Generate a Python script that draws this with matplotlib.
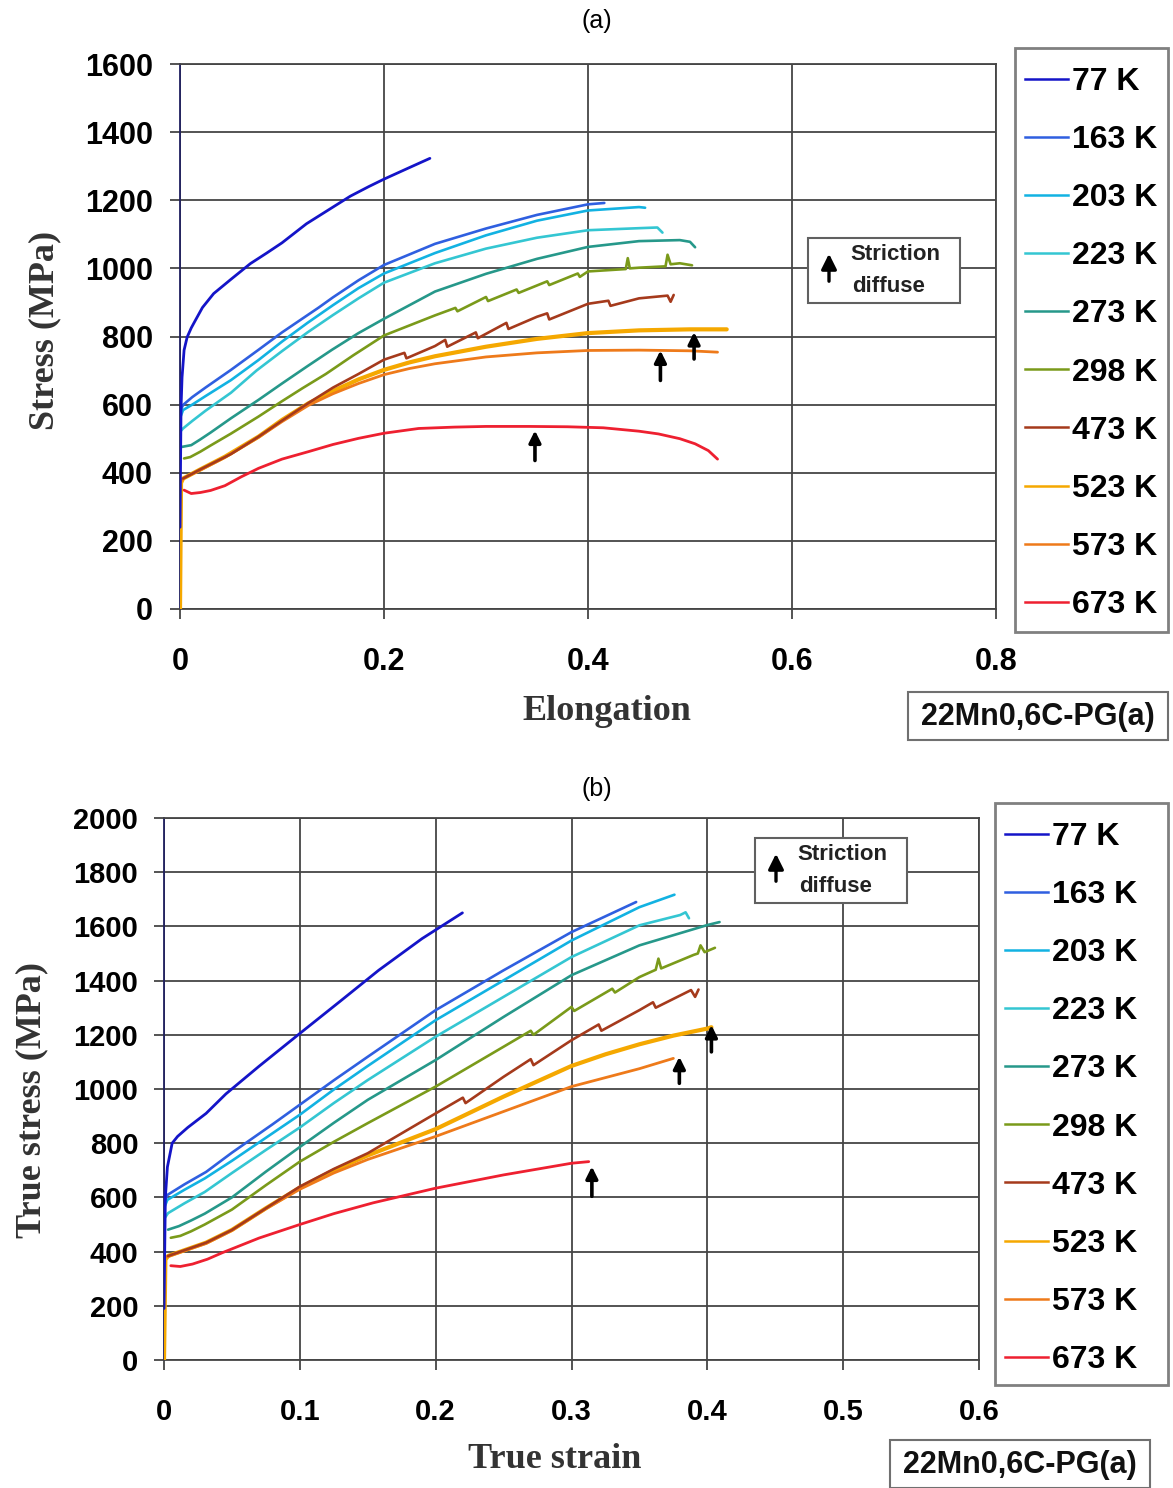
import matplotlib
matplotlib.use("Agg")
import matplotlib.pyplot as plt
from matplotlib.lines import Line2D
from matplotlib.patches import Rectangle, FancyArrowPatch

W, H = 1173, 1488

temps = ["77 K", "163 K", "203 K", "223 K", "273 K", "298 K", "473 K", "523 K", "573 K", "673 K"]

# (a) engineering stress vs elongation
eng_x_77 = [0, 0.001, 0.002, 0.004, 0.007, 0.011, 0.015, 0.022, 0.033, 0.05, 0.069, 0.085, 0.1, 0.124,
            0.15, 0.167, 0.185, 0.2, 0.225, 0.245]
eng_y_77 = [240, 590, 680, 760, 798, 825, 847, 885, 926, 968, 1014, 1045, 1075, 1131,
            1180, 1212, 1240, 1262, 1296, 1323]
eng_x_163 = [0, 0.003, 0.012, 0.025, 0.05, 0.077, 0.1, 0.136, 0.15, 0.175, 0.2, 0.25, 0.3, 0.35, 0.4, 0.416]
eng_y_163 = [580, 599, 622, 650, 702, 761, 812, 885, 915, 965, 1010, 1072, 1117, 1157, 1188, 1192]
eng_x_203 = [0, 0.003, 0.012, 0.025, 0.05, 0.077, 0.1, 0.125, 0.15, 0.175, 0.2, 0.25, 0.3, 0.35, 0.4, 0.45, 0.456]
eng_y_203 = [560, 584, 600, 625, 672, 731, 785, 840, 892, 942, 985, 1045, 1097, 1140, 1170, 1180, 1178]
eng_x_223 = [0, 0.003, 0.012, 0.025, 0.05, 0.075, 0.1, 0.125, 0.15, 0.175, 0.2, 0.25, 0.3, 0.35, 0.4, 0.45,
             0.468, 0.473]
eng_y_223 = [520, 530, 552, 582, 635, 700, 757, 812, 863, 912, 958, 1015, 1058, 1090, 1112, 1118,
             1120, 1105]
eng_x_273 = [0.002, 0.011, 0.02, 0.03, 0.05, 0.077, 0.1, 0.125, 0.149, 0.175, 0.2, 0.25, 0.3, 0.35, 0.4,
             0.45, 0.49, 0.5, 0.505]
eng_y_273 = [476, 481, 498, 518, 560, 614, 662, 713, 761, 810, 852, 932, 984, 1028, 1063,
             1080, 1083, 1078, 1062]
eng_x_298 = [0.004, 0.01, 0.02, 0.03, 0.05, 0.077, 0.1, 0.12, 0.143, 0.17, 0.2, 0.25, 0.27, 0.272, 0.3,
             0.302, 0.33, 0.332, 0.36, 0.362, 0.39, 0.392, 0.4, 0.437, 0.439, 0.441, 0.45, 0.476, 0.478,
             0.481, 0.49, 0.502]
eng_y_298 = [442, 446, 462, 480, 515, 565, 610, 648, 690, 745, 803, 862, 884, 874, 916,
             904, 938, 928, 962, 951, 985, 975, 991, 998, 1030, 1000, 1002, 1006, 1040,
             1012, 1015, 1009]
eng_x_473 = [0.003, 0.02, 0.05, 0.077, 0.1, 0.126, 0.15, 0.175, 0.2, 0.22, 0.222, 0.25, 0.26, 0.262, 0.29,
             0.292, 0.32, 0.322, 0.35, 0.36, 0.362, 0.4, 0.42, 0.422, 0.45, 0.478, 0.481, 0.484]
eng_y_473 = [383, 410, 455, 506, 553, 605, 650, 690, 732, 752, 736, 772, 790, 770, 812,
             795, 840, 822, 858, 868, 850, 896, 905, 890, 912, 920, 902, 922]
eng_x_523 = [0, 0.001, 0.003, 0.02, 0.044, 0.077, 0.1, 0.126, 0.15, 0.175, 0.2, 0.225, 0.25, 0.3, 0.35,
             0.4, 0.45, 0.5, 0.536]
eng_y_523 = [0, 370, 383, 410, 447, 506, 555, 604, 640, 674, 702, 724, 742, 770, 793,
             810, 818, 821, 821]
eng_x_573 = [0.001, 0.003, 0.02, 0.044, 0.077, 0.1, 0.126, 0.15, 0.175, 0.2, 0.225, 0.25, 0.3, 0.35, 0.4,
             0.45, 0.5, 0.527]
eng_y_573 = [375, 383, 408, 445, 504, 550, 598, 632, 662, 688, 706, 720, 740, 752, 759,
             760, 758, 754]
eng_x_673 = [0.004, 0.011, 0.02, 0.03, 0.044, 0.06, 0.077, 0.1, 0.126, 0.15, 0.175, 0.2, 0.234, 0.269,
             0.3, 0.342, 0.38, 0.415, 0.45, 0.469, 0.49, 0.505, 0.518, 0.527]
eng_y_673 = [349, 339, 342, 348, 362, 388, 413, 440, 462, 483, 501, 516, 530, 534,
             536, 536, 535, 532, 522, 514, 500, 485, 465, 440]

# (b) true stress vs true strain
true_x_77 = [0, 0.001, 0.0025, 0.006, 0.01, 0.0175, 0.031, 0.0456, 0.07, 0.1, 0.13, 0.158, 0.19, 0.2197]
true_y_77 = [190, 600, 712, 800, 825, 858, 910, 982, 1084, 1205, 1325, 1438, 1555, 1650]
true_x_163 = [0, 0.0025, 0.015, 0.031, 0.05, 0.08, 0.1, 0.125, 0.15, 0.2, 0.25, 0.3, 0.3476]
true_y_163 = [580, 609, 648, 694, 765, 870, 942, 1032, 1119, 1291, 1438, 1579, 1690]
true_x_203 = [0, 0.0025, 0.015, 0.03, 0.05, 0.075, 0.1, 0.125, 0.15, 0.2, 0.25, 0.3, 0.35, 0.3758]
true_y_203 = [560, 591, 628, 670, 735, 820, 905, 998, 1085, 1254, 1401, 1548, 1671, 1717]
true_x_223 = [0, 0.003, 0.015, 0.03, 0.05, 0.075, 0.1, 0.125, 0.15, 0.2, 0.25, 0.3, 0.35, 0.38, 0.384, 0.3865]
true_y_223 = [520, 542, 578, 620, 690, 775, 858, 948, 1033, 1193, 1340, 1487, 1604, 1642, 1652, 1630]
true_x_273 = [0.003, 0.011, 0.02, 0.03, 0.05, 0.075, 0.1, 0.125, 0.15, 0.2, 0.25, 0.3, 0.35, 0.4, 0.409]
true_y_273 = [481, 494, 515, 540, 600, 695, 786, 875, 960, 1107, 1266, 1420, 1530, 1605, 1616]
true_x_298 = [0.005, 0.012, 0.02, 0.03, 0.05, 0.075, 0.1, 0.125, 0.15, 0.2, 0.25, 0.27, 0.272, 0.3, 0.302,
              0.33, 0.332, 0.35, 0.362, 0.364, 0.366, 0.39, 0.393, 0.395, 0.398, 0.4056]
true_y_298 = [451, 458, 475, 500, 555, 645, 732, 805, 874, 1009, 1156, 1215, 1200, 1303, 1288,
              1370, 1356, 1413, 1440, 1481, 1445, 1495, 1500, 1530, 1505, 1521]
true_x_473 = [0.003, 0.015, 0.031, 0.05, 0.075, 0.1, 0.125, 0.15, 0.2, 0.22, 0.222, 0.25, 0.27, 0.272,
              0.3, 0.32, 0.322, 0.35, 0.36, 0.362, 0.388, 0.391, 0.3935]
true_y_473 = [384, 405, 433, 480, 560, 640, 705, 763, 910, 968, 948, 1045, 1110, 1088,
              1180, 1238, 1215, 1291, 1320, 1300, 1365, 1340, 1367]
true_x_523 = [0, 0.001, 0.003, 0.015, 0.031, 0.05, 0.075, 0.1, 0.125, 0.15, 0.2, 0.25, 0.3, 0.325, 0.35,
              0.375, 0.4, 0.403]
true_y_523 = [0, 370, 384, 405, 433, 480, 560, 636, 700, 755, 852, 972, 1085, 1128, 1165,
              1197, 1223, 1228]
true_x_573 = [0.002, 0.015, 0.031, 0.05, 0.075, 0.1, 0.125, 0.15, 0.2, 0.25, 0.3, 0.35, 0.375]
true_y_573 = [380, 403, 430, 478, 558, 630, 690, 740, 825, 917, 1009, 1075, 1113]
true_x_673 = [0.005, 0.012, 0.021, 0.032, 0.043, 0.07, 0.1, 0.125, 0.154, 0.2, 0.25, 0.3, 0.3127]
true_y_673 = [348, 345, 354, 372, 396, 450, 500, 540, 580, 634, 683, 726, 732]

eng_x = [eng_x_77, eng_x_163, eng_x_203, eng_x_223, eng_x_273, eng_x_298, eng_x_473, eng_x_523, eng_x_573, eng_x_673]
eng_y = [eng_y_77, eng_y_163, eng_y_203, eng_y_223, eng_y_273, eng_y_298, eng_y_473, eng_y_523, eng_y_573, eng_y_673]
true_x = [true_x_77, true_x_163, true_x_203, true_x_223, true_x_273, true_x_298, true_x_473, true_x_523, true_x_573, true_x_673]
true_y = [true_y_77, true_y_163, true_y_203, true_y_223, true_y_273, true_y_298, true_y_473, true_y_523, true_y_573, true_y_673]

# diffuse necking arrows: (strain, arrow base, arrow tip)
eng_arrows = [(0.348, 436, 524), (0.471, 671, 759), (0.504, 734, 813)]
true_arrows = [(0.315, 604, 714), (0.3794, 1021, 1119), (0.403, 1137, 1236)]

colors = ["#1414c8", "#2f5fe0", "#12b2e2", "#34c6d2", "#26988a",
          "#7a9a1a", "#a53a1c", "#f5a800", "#ee7a1a", "#ee2030"]
widths = [2.0, 1.9, 1.9, 1.9, 1.9, 1.9, 1.9, 3.0, 2.0, 2.0]
draw_order = [7, 8, 9, 6, 5, 4, 3, 2, 1, 0]

grid_col = "#454545"
label_font = {"family": "Liberation Serif", "weight": "bold", "size": 26}
arrow_style = "-|>,head_width=0.35,head_length=0.7"


def fx(px):
    return px / W


def fy(py):
    return 1 - py / H


fig = plt.figure(figsize=(W / 100, H / 100), dpi=100)


def make_panel(rect, xs, ys, xlim, xticks, xticklabels, ylim, yticks, arrows, tsize, ypad):
    ax = fig.add_axes(rect)
    ax.set_xlim(*xlim)
    ax.set_ylim(*ylim)
    ax.set_xticks(xticks)
    ax.set_xticklabels(xticklabels)
    ax.set_yticks(yticks)
    ax.grid(True, color=grid_col, lw=1.3, zorder=0)
    ax.set_axisbelow(True)
    for s in ax.spines.values():
        s.set_color(grid_col)
        s.set_linewidth(1.3)
    ax.spines["left"].set_color("#202060")
    ax.tick_params(axis="both", direction="out", length=7.5, width=1.3, color=grid_col)
    ax.tick_params(axis="x", pad=20)
    ax.tick_params(axis="y", pad=ypad)
    for lab in ax.get_xticklabels() + ax.get_yticklabels():
        lab.set_fontfamily("Liberation Sans")
        lab.set_fontweight("bold")
        lab.set_fontsize(tsize)
    for i in draw_order:
        ax.plot(xs[i], ys[i], color=colors[i], lw=widths[i], solid_joinstyle="round",
                solid_capstyle="round", zorder=3)
    for x, y0, y1 in arrows:
        ax.annotate("", xy=(x, y1), xytext=(x, y0),
                    arrowprops=dict(arrowstyle=arrow_style, color="black", lw=2.6,
                                    shrinkA=0, shrinkB=0), zorder=5)
    return ax


ax_a = make_panel([fx(180), fy(609), fx(996) - fx(180), fy(64) - fy(609)],
                  eng_x, eng_y, (0, 0.8), [0, 0.2, 0.4, 0.6, 0.8],
                  ["0", "0.2", "0.4", "0.6", "0.8"], (0, 1600),
                  range(0, 1601, 200), eng_arrows, 22, 12)
ax_b = make_panel([fx(164), fy(1360), fx(979) - fx(164), fy(818) - fy(1360)],
                  true_x, true_y, (0, 0.6), [0, 0.1, 0.2, 0.3, 0.4, 0.5, 0.6],
                  ["0", "0.1", "0.2", "0.3", "0.4", "0.5", "0.6"], (0, 2000),
                  range(0, 2001, 200), true_arrows, 21, 11)

# legends: frame drawn by hand so the padding matches
handles = [Line2D([], [], color=c, lw=1.8) for c in colors]
leg_prop = {"family": "Liberation Sans", "weight": "bold", "size": 23}
for ax, (x0, y0, x1, y1) in [(ax_a, (1015, 48, 1168, 632)), (ax_b, (995, 803, 1168, 1385))]:
    fig.add_artist(Rectangle((fx(x0), fy(y1)), fx(x1 - x0), (y1 - y0) / H, transform=fig.transFigure,
                             facecolor="white", edgecolor="#808080", lw=2, zorder=4))
    leg = ax.legend(handles, temps, loc="upper left", bbox_to_anchor=(fx(x0 + 10), fy(y0 + 19)),
                    bbox_transform=fig.transFigure, borderaxespad=0, frameon=False,
                    handlelength=1.35, handletextpad=0.12, labelspacing=0.88, borderpad=0,
                    prop=leg_prop)
    leg.set_zorder(6)
    leg.set_in_layout(False)
    fig.legends.append(leg)
    ax.legend_ = None

# striction boxes
for bx, by in [(808, 238), (755, 838)]:
    fig.add_artist(Rectangle((fx(bx), fy(by + 65)), fx(152), 65 / H, transform=fig.transFigure,
                             facecolor="white", edgecolor="#606060", lw=1.5, zorder=6))
    fig.add_artist(FancyArrowPatch((fx(bx + 21), fy(by + 46)), (fx(bx + 21), fy(by + 13)),
                                   transform=fig.transFigure, arrowstyle=arrow_style,
                                   mutation_scale=13, color="black", lw=2.4, zorder=7))
    fig.text(fx(bx + 42), fy(by + 17), "Striction", ha="left", va="center",
             fontsize=16, fontweight="bold", family="Liberation Sans", color="#222222", zorder=7)
    fig.text(fx(bx + 44), fy(by + 48), "diffuse", ha="left", va="center",
             fontsize=16, fontweight="bold", family="Liberation Sans", color="#222222", zorder=7)

# sample tags
for tx, ty in [(908, 692), (890, 1440)]:
    fig.add_artist(Rectangle((fx(tx), fy(ty + 48)), fx(260), 48 / H, transform=fig.transFigure,
                             facecolor="white", edgecolor="#707070", lw=1.5))
    fig.text(fx(tx + 130), fy(ty + 25), "22Mn0,6C-PG(a)", ha="center", va="center",
             fontsize=22, fontweight="bold", family="Liberation Sans", color="#111111")

# axis titles
fig.text(fx(45), fy(330), "Stress (MPa)", rotation=90, ha="center", va="center", color="#333333", **label_font)
fig.text(fx(607), fy(712), "Elongation", ha="center", va="center", color="#333333", **label_font)
fig.text(fx(32), fy(1100), "True stress (MPa)", rotation=90, ha="center", va="center", color="#333333", **label_font)
fig.text(fx(555), fy(1460), "True strain", ha="center", va="center", color="#333333", **label_font)

fig.text(fx(597), fy(21), "(a)", ha="center", va="center", fontsize=18, family="Liberation Sans")
fig.text(fx(597), fy(789), "(b)", ha="center", va="center", fontsize=18, family="Liberation Sans")

fig.savefig("out.png", dpi=100, facecolor="white")
